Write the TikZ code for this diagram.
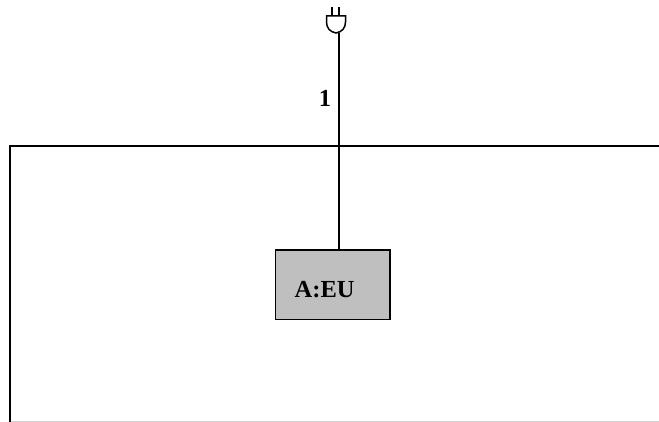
\documentclass[tikz,border=0pt]{standalone}
\usepackage{fontspec}
\setmainfont{Liberation Serif}
\definecolor{boxgray}{gray}{0.75}
\tikzset{
  px/.style={x=1pt,y=-1pt},
  ln/.style={draw=black,line width=1.2pt},
  plugline/.style={draw=black,line width=1.5pt},
  unitbox/.style={draw=black,line width=1.5pt,fill=boxgray,minimum width=114.5pt,minimum height=69.5pt,inner sep=0pt,outer sep=0pt},
  lbl/.style={font=\bfseries\fontsize{24.5}{26}\selectfont,inner sep=0pt}
}
\begin{document}
\begin{tikzpicture}[px]
\useasboundingbox (0,0) rectangle (659,422);
\fill[white] (0,0) rectangle (659,422);
% frame
\draw[draw=black!18,line width=1pt] (10,421.5) -- (659,421.5);
\draw[ln] (10,422) -- (10,146) -- (659,146);
% box
\node[unitbox] (eu) at (332.8,284.8) {};
\node[lbl,anchor=base west] (eulabel) at (294.5,297.5) {A:EU};
% plug
\coordinate (plugbase) at (339,33);
\draw[plugline] (326.5,16) -- (345.5,16) -- (345.5,22) .. controls (345.5,28) and (342,32) .. (336,33) .. controls (330,32) and (326.5,28) .. (326.5,22) -- cycle;
\draw[plugline] (332,7) -- (332,16);
\draw[plugline] (339,7) -- (339,16);
% connector
\draw[ln] (plugbase) -- (plugbase |- eu.north);
\node[lbl,anchor=base] (wire) at (325,107) {1};
\end{tikzpicture}
\end{document}
